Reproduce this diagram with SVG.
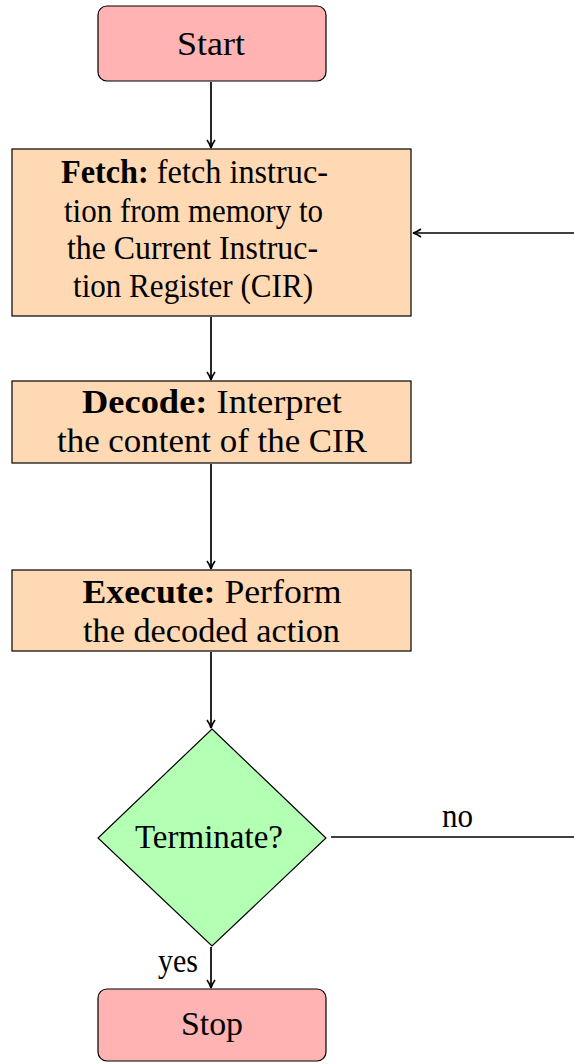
<svg xmlns="http://www.w3.org/2000/svg" width="574" height="1064" viewBox="0 0 574 1064">
<style>
text{font-size:33px;fill:#000;text-anchor:middle}
.b{font-weight:bold}
.term{fill:#ffb3b3;stroke:#000;stroke-width:1.2}
.proc{fill:#ffd9b3;stroke:#000;stroke-width:1.2}
.dec{fill:#b3ffb3;stroke:#000;stroke-width:1.2}
.c{fill:none;stroke:#000;stroke-width:1.7}
.c2{fill:none;stroke:#000;stroke-width:1.3}
</style>
<defs>
<marker id="ah" viewBox="0 0 10 10" refX="9" refY="5" markerWidth="10" markerHeight="10" markerUnits="userSpaceOnUse" orient="auto">
<path d="M1,1 Q5,4 9,5 Q5,6 1,9" fill="none" stroke="#000" stroke-width="1.6"/>
</marker>
</defs>
<g font-family="Liberation Serif, Times New Roman, serif">
<g id="connectors">
<line class="c" x1="211" y1="82" x2="211" y2="148" marker-end="url(#ah)"/>
<line class="c" x1="211" y1="317" x2="211" y2="380" marker-end="url(#ah)"/>
<line class="c" x1="211" y1="464" x2="211" y2="569" marker-end="url(#ah)"/>
<line class="c" x1="211" y1="652" x2="211" y2="728" marker-end="url(#ah)"/>
<line class="c" x1="211" y1="947" x2="211" y2="988" marker-end="url(#ah)"/>
<polyline class="c2" points="331,837 580,837 580,233"/>
<line class="c2" x1="580" y1="233" x2="413" y2="233" marker-end="url(#ah)"/>
<text x="457.5" y="827" textLength="31" lengthAdjust="spacingAndGlyphs">no</text>
<text x="178" y="972" textLength="40" lengthAdjust="spacingAndGlyphs">yes</text>
</g>
<g id="start">
<rect class="term" x="98" y="6" width="228" height="75" rx="9"/>
<text x="211" y="55" textLength="68" lengthAdjust="spacingAndGlyphs">Start</text>
</g>
<g id="fetch">
<rect class="proc" x="12" y="149" width="399" height="167"/>
<text x="194.5" y="183" textLength="267" lengthAdjust="spacingAndGlyphs"><tspan class="b">Fetch:</tspan> fetch instruc-</text>
<text x="193.5" y="222" textLength="259" lengthAdjust="spacingAndGlyphs">tion from memory to</text>
<text x="192.5" y="259" textLength="251" lengthAdjust="spacingAndGlyphs">the Current Instruc-</text>
<text x="193" y="297" textLength="240" lengthAdjust="spacingAndGlyphs">tion Register (CIR)</text>
</g>
<g id="decode">
<rect class="proc" x="12" y="381" width="399" height="82"/>
<text x="212" y="413" textLength="260" lengthAdjust="spacingAndGlyphs"><tspan class="b">Decode:</tspan> Interpret</text>
<text x="212" y="452" textLength="310" lengthAdjust="spacingAndGlyphs">the content of the CIR</text>
</g>
<g id="execute">
<rect class="proc" x="12" y="570" width="399" height="81"/>
<text x="212" y="603" textLength="259" lengthAdjust="spacingAndGlyphs"><tspan class="b">Execute:</tspan> Perform</text>
<text x="211.5" y="642" textLength="257" lengthAdjust="spacingAndGlyphs">the decoded action</text>
</g>
<g id="terminate">
<polygon class="dec" points="212,729 326,838 212,946 98,838"/>
<text x="209" y="848" textLength="148" lengthAdjust="spacingAndGlyphs">Terminate?</text>
</g>
<g id="stop">
<rect class="term" x="98" y="989" width="228" height="72" rx="9"/>
<text x="212" y="1035" textLength="62" lengthAdjust="spacingAndGlyphs">Stop</text>
</g>
</g>
</svg>
